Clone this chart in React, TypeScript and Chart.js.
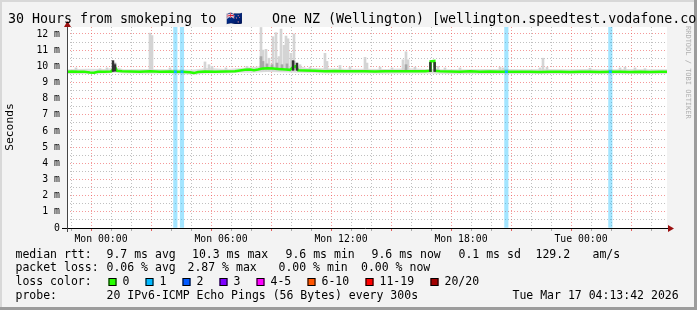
import { useEffect, useRef } from 'react';
import { Chart, registerables } from 'chart.js';

Chart.register(...registerables);

const FONT = '"DejaVu Sans Mono", "Liberation Mono", monospace';
const W = 697;
const H = 310;

// ---- texts ----
const titleParts = ['30 Hours from smokeping to', '🇳🇿', 'One NZ (Wellington) [wellington.speedtest.vodafone.co.nz]'];
const yAxisTitle = 'Seconds';
const watermark = 'RRDTOOL / TOBI OETIKER';

// ---- axes (minutes since graph start) ----
const rangeMinutes = 1800;
const xTickMinutes = [102, 462, 822, 1182, 1542];
const xTickLabels = ['Mon 00:00', 'Mon 06:00', 'Mon 12:00', 'Mon 18:00', 'Tue 00:00'];
const yMaxMs = 12.43;
const yTopTickMs = 12;

// ---- median rtt (ms) ----
const medianMinutes = [0, 15, 33, 51, 69, 81, 93, 111, 132, 138, 144, 150, 165, 189, 219, 249, 279, 309, 324, 345, 369, 381, 393, 414, 444, 474, 504, 519, 534, 549, 561, 573, 588, 603, 618, 633, 645, 657, 669, 678, 687, 693, 714, 744, 774, 804, 834, 864, 894, 924, 954, 984, 1014, 1044, 1074, 1089, 1091, 1102, 1104, 1119, 1149, 1179, 1209, 1239, 1269, 1299, 1317, 1329, 1359, 1389, 1419, 1449, 1479, 1509, 1539, 1569, 1599, 1629, 1659, 1689, 1719, 1749, 1779, 1800];
const medianMs = [9.67, 9.68, 9.66, 9.67, 9.62, 9.60, 9.66, 9.67, 9.68, 9.80, 9.95, 9.72, 9.69, 9.68, 9.67, 9.69, 9.67, 9.68, 9.67, 9.67, 9.63, 9.58, 9.65, 9.68, 9.67, 9.68, 9.69, 9.74, 9.78, 9.80, 9.76, 9.80, 9.87, 9.88, 9.87, 9.84, 9.82, 9.80, 9.78, 9.95, 10.02, 9.75, 9.74, 9.72, 9.70, 9.71, 9.69, 9.70, 9.69, 9.68, 9.70, 9.69, 9.70, 9.69, 9.70, 9.72, 10.30, 10.33, 9.72, 9.70, 9.68, 9.67, 9.69, 9.66, 9.68, 9.67, 9.66, 9.67, 9.66, 9.67, 9.65, 9.67, 9.66, 9.65, 9.66, 9.67, 9.65, 9.66, 9.67, 9.65, 9.66, 9.65, 9.66, 9.66];

// ---- smoke: general band around the median ----
const smokeMinutes = [0, 60, 120, 144, 170, 240, 300, 380, 420, 480, 519, 560, 600, 660, 690, 720, 780, 840, 900, 960, 1020, 1080, 1140, 1200, 1260, 1320, 1380, 1440, 1500, 1560, 1620, 1680, 1740, 1800];
const smokeLowMs = [9.52, 9.53, 9.55, 9.6, 9.55, 9.54, 9.55, 9.48, 9.55, 9.55, 9.6, 9.6, 9.65, 9.62, 9.6, 9.58, 9.56, 9.55, 9.55, 9.54, 9.55, 9.55, 9.53, 9.52, 9.53, 9.52, 9.52, 9.52, 9.52, 9.53, 9.52, 9.53, 9.52, 9.52];
const smokeHighMs = [9.82, 9.85, 9.84, 9.95, 9.82, 9.83, 9.82, 9.80, 9.9, 9.84, 9.9, 9.95, 10.05, 10.0, 10.05, 9.9, 9.88, 9.85, 9.85, 9.84, 9.88, 9.83, 9.82, 9.82, 9.83, 9.84, 9.81, 9.84, 9.81, 9.83, 9.82, 9.84, 9.82, 9.82];

// ---- smoke: max-ping spikes ----
const spikeFloorMs = 9.7;
const spikeMinutes = [27, 99, 120, 249, 255, 309, 414, 426, 435, 477, 540, 582, 588, 597, 606, 618, 627, 636, 642, 651, 657, 663, 672, 681, 699, 729, 774, 780, 819, 849, 894, 900, 939, 975, 1008, 1017, 1023, 1044, 1113, 1134, 1179, 1299, 1308, 1419, 1428, 1440, 1569, 1659, 1674, 1704, 1734];
const spikeHighMs = [9.9, 9.85, 9.9, 12.05, 11.9, 9.9, 10.27, 10.1, 10.0, 9.9, 10.0, 12.4, 11.0, 11.05, 10.5, 11.83, 12.08, 10.6, 12.3, 11.3, 11.87, 11.7, 10.8, 12.0, 10.1, 9.95, 10.8, 10.3, 10.05, 9.95, 10.55, 10.2, 9.95, 9.9, 10.4, 10.9, 10.4, 9.95, 10.0, 9.9, 9.9, 9.95, 9.9, 9.9, 10.5, 9.95, 9.88, 9.9, 9.95, 9.9, 9.85];

// ---- smoke: denser shades ----
const midMinutes = [144, 582, 588, 600, 615, 630, 645, 660, 681, 1017];
const midLowMs = [9.7, 9.8, 9.8, 9.85, 9.85, 9.85, 9.85, 9.82, 9.8, 9.7];
const midHighMs = [10.2, 10.6, 10.3, 10.15, 10.1, 10.2, 10.1, 10.15, 10.3, 10.1];
const darkMinutes = [138, 144, 678, 690, 1090, 1103];
const darkLowMs = [9.68, 9.7, 9.75, 9.75, 9.68, 9.68];
const darkHighMs = [10.35, 10.1, 10.35, 10.2, 10.24, 10.24];

// ---- packet loss events ----
const lossMinutes = [325, 345, 1318, 1630];
const lossCounts = [1, 1, 1, 1];
const lossMedianMs = [9.67, 9.67, 9.66, 9.66];

// ---- legend ----
const lossColorLabels = ['0', '1', '2', '3', '4-5', '6-10', '11-19', '20/20'];
const lossColors = ['#26ff00', '#00b8ff', '#0059ff', '#7e00ff', '#ff00ff', '#ff5500', '#ff0000', '#a10000'];
const rttLegend = ['median rtt:', '9.7 ms avg', '10.3 ms max', '9.6 ms min', '9.6 ms now', '0.1 ms sd', '129.2', 'am/s'];
const lossLegend = ['packet loss:', '0.06 % avg', '2.87 % max', '0.00 % min', '0.00 % now'];
const lossColorTitle = 'loss color:';
const probeLegend = ['probe:', '20 IPv6-ICMP Echo Pings (56 Bytes) every 300s', 'Tue Mar 17 04:13:42 2026'];

// ---- layout constants ----
const rttX = [15.5, 106.5, 192, 285.5, 371.5, 458.5, 535.5, 592.5];
const lossX = [15.5, 106.5, 187.5, 278.5, 361];
const boxX = [108.5, 145.5, 182.5, 219.5, 256.5, 307.5, 365.5, 430.5];
const boxLabelOffset = 14;
const probeX = [15.5, 106.5, 512.5];

const MINOR_GRID = 'rgba(140,140,140,0.55)';
const MAJOR_GRID = 'rgba(235,70,70,0.55)';

const hourTicks: number[] = [];
for (let t = xTickMinutes[0] % 60; t <= rangeMinutes; t += 60) hourTicks.push(t);
const yTicks: number[] = [];
for (let v = 0; v <= yTopTickMs + 1e-9; v += 0.5) yTicks.push(v);

const tickVal = (c: any) => (c && c.tick ? Number(c.tick.value) : NaN);
const isMajorX = (v: number) => Number.isFinite(v) && (((v - xTickMinutes[0]) % 180) + 180) % 180 === 0;

const decorPlugin = {
  id: 'decor',
  beforeDraw(chart: any) {
    const { ctx, chartArea } = chart;
    ctx.save();
    ctx.fillStyle = '#f3f3f3';
    ctx.fillRect(0, 0, W, H);
    ctx.fillStyle = '#d8d8d8';
    ctx.fillRect(0, 0, W, 2);
    ctx.fillRect(0, 0, 2, H);
    ctx.fillStyle = '#9c9c9c';
    ctx.fillRect(W - 3, 0, 3, H);
    ctx.fillRect(0, H - 3, W, 3);
    ctx.fillStyle = '#ffffff';
    ctx.fillRect(chartArea.left, chartArea.top, chartArea.right - chartArea.left, chartArea.bottom - chartArea.top);
    ctx.restore();
  },
  afterDraw(chart: any) {
    const { ctx, chartArea } = chart;
    const { left, right, top, bottom } = chartArea;
    ctx.save();
    // axes
    ctx.lineWidth = 1;
    ctx.strokeStyle = '#000';
    ctx.beginPath();
    ctx.moveTo(left - 5, bottom + 0.5);
    ctx.lineTo(right + 2, bottom + 0.5);
    ctx.stroke();
    ctx.strokeStyle = '#444';
    ctx.beginPath();
    ctx.moveTo(left + 0.5, bottom + 4);
    ctx.lineTo(left + 0.5, top - 1);
    ctx.stroke();
    ctx.fillStyle = '#9a1010';
    ctx.beginPath();
    ctx.moveTo(right + 1, bottom - 3);
    ctx.lineTo(right + 7, bottom + 0.5);
    ctx.lineTo(right + 1, bottom + 4);
    ctx.closePath();
    ctx.fill();
    ctx.beginPath();
    ctx.moveTo(left - 3, top);
    ctx.lineTo(left + 0.5, top - 6);
    ctx.lineTo(left + 4, top);
    ctx.closePath();
    ctx.fill();

    // title
    ctx.fillStyle = '#000';
    ctx.textBaseline = 'middle';
    ctx.textAlign = 'left';
    ctx.font = `13.3px ${FONT}`;
    ctx.fillText(titleParts[0], 8, 19.5);
    ctx.fillText(titleParts[1], 226, 19.5);
    ctx.fillText(titleParts[2], 272, 19.5);

    // y axis title
    ctx.save();
    ctx.font = `11.3px ${FONT}`;
    ctx.translate(10.5, 127);
    ctx.rotate(-Math.PI / 2);
    ctx.textAlign = 'center';
    ctx.fillText(yAxisTitle, 0, 0);
    ctx.restore();

    // watermark
    ctx.save();
    ctx.font = `7px ${FONT}`;
    ctx.fillStyle = '#b0b0b0';
    ctx.translate(688, 26);
    ctx.rotate(Math.PI / 2);
    ctx.textAlign = 'left';
    ctx.fillText(watermark, 0, 0);
    ctx.restore();

    // legend
    ctx.font = `11.5px ${FONT}`;
    ctx.fillStyle = '#000';
    rttLegend.forEach((s, i) => ctx.fillText(s, rttX[i], 255));
    lossLegend.forEach((s, i) => ctx.fillText(s, lossX[i], 268.5));
    ctx.fillText(lossColorTitle, 15.5, 282);
    lossColorLabels.forEach((s, i) => {
      ctx.fillStyle = lossColors[i];
      ctx.fillRect(boxX[i], 278, 8, 8);
      ctx.strokeStyle = '#000';
      ctx.strokeRect(boxX[i] + 0.5, 278.5, 7, 7);
      ctx.fillStyle = '#000';
      ctx.fillText(s, boxX[i] + boxLabelOffset, 282);
    });
    probeLegend.forEach((s, i) => ctx.fillText(s, probeX[i], 296));
    ctx.restore();
  },
};

export default function App() {
  const ref = useRef<HTMLCanvasElement>(null);
  useEffect(() => {
    document.body.style.margin = '0';
    const canvas = ref.current;
    if (!canvas) return;

    const pts = (xs: number[], ys: number[]) => xs.map((x, i) => ({ x, y: ys[i] }));
    const lossLine: any[] = [];
    lossMinutes.forEach((t, i) => {
      lossLine.push({ x: t - 4.5, y: lossMedianMs[i] }, { x: t + 4.5, y: lossMedianMs[i] }, { x: t + 5, y: null });
    });

    const chart = new Chart(canvas, {
      type: 'line',
      data: {
        datasets: [
          {
            type: 'line',
            data: pts(smokeMinutes, smokeHighMs),
            borderWidth: 0,
            pointRadius: 0,
            backgroundColor: '#dedede',
            fill: '+1',
            order: 9,
          } as any,
          {
            type: 'line',
            data: pts(smokeMinutes, smokeLowMs),
            borderWidth: 0,
            pointRadius: 0,
            fill: false,
            order: 9,
          },
          {
            type: 'bar',
            data: lossMinutes.map((x) => ({ x, y: [0, yMaxMs] })),
            backgroundColor: lossMinutes.map((_, i) => lossColors[lossCounts[i]] + '5c'),
            barThickness: 3.5,
            grouped: false,
            borderWidth: 0,
            order: 5,
          } as any,
          {
            type: 'bar',
            data: spikeMinutes.map((x, i) => ({ x, y: [spikeFloorMs, spikeHighMs[i]] })),
            backgroundColor: '#d4d4d4',
            barThickness: 2,
            grouped: false,
            borderWidth: 0,
            order: 8,
          } as any,
          {
            type: 'bar',
            data: midMinutes.map((x, i) => ({ x, y: [midLowMs[i], midHighMs[i]] })),
            backgroundColor: '#a8a8a8',
            barThickness: 2,
            grouped: false,
            borderWidth: 0,
            order: 7,
          } as any,
          {
            type: 'bar',
            data: darkMinutes.map((x, i) => ({ x, y: [darkLowMs[i], darkHighMs[i]] })),
            backgroundColor: '#333333',
            barThickness: 1.8,
            grouped: false,
            borderWidth: 0,
            order: 0,
          } as any,
          {
            type: 'line',
            data: pts(medianMinutes, medianMs),
            borderColor: lossColors[0],
            borderWidth: 2.5,
            pointRadius: 0,
            tension: 0,
            fill: false,
            order: 2,
          },
          {
            type: 'line',
            data: lossLine,
            borderColor: lossColors[1],
            borderWidth: 2.5,
            pointRadius: 0,
            spanGaps: false,
            fill: false,
            order: 1,
          },
        ],
      },
      options: {
        animation: false,
        responsive: false,
        devicePixelRatio: 1,
        layout: { padding: { left: 0, right: 30, top: 27, bottom: 0 } },
        plugins: {
          legend: { display: false },
          tooltip: { enabled: false },
          title: { display: false },
        },
        scales: {
          x: {
            type: 'linear',
            min: 0,
            max: rangeMinutes,
            offset: false,
            afterBuildTicks: (s: any) => {
              s.ticks = hourTicks.map((value) => ({ value }));
            },
            afterFit: (s: any) => {
              s.height = H - 228;
            },
            border: { display: false, dash: [1, 2] },
            grid: {
              color: (c: any) => (isMajorX(tickVal(c)) ? MAJOR_GRID : MINOR_GRID),
              tickColor: (c: any) => (isMajorX(tickVal(c)) ? '#e06060' : '#aaaaaa'),
              drawTicks: true,
              tickLength: 3,
              tickBorderDash: [],
            },
            ticks: {
              autoSkip: false,
              maxRotation: 0,
              minRotation: 0,
              padding: 3,
              color: '#000',
              font: { family: FONT, size: 9.8 },
              callback: (v: any) => {
                const i = xTickMinutes.indexOf(Number(v));
                return i >= 0 ? xTickLabels[i] : '';
              },
            },
          },
          y: {
            type: 'linear',
            min: 0,
            max: yMaxMs,
            afterBuildTicks: (s: any) => {
              s.ticks = yTicks.map((value) => ({ value }));
            },
            afterFit: (s: any) => {
              s.width = 67;
            },
            border: { display: false, dash: [1, 2] },
            grid: {
              color: (c: any) => (Number.isInteger(tickVal(c)) ? MAJOR_GRID : MINOR_GRID),
              drawTicks: false,
            },
            ticks: {
              autoSkip: false,
              padding: 7,
              color: '#000',
              font: { family: FONT, size: 9.8 },
              callback: (v: any) => {
                const n = Number(v);
                if (!Number.isInteger(n)) return '';
                return n === 0 ? '0' : `${n} m`;
              },
            },
          },
        },
      },
      plugins: [decorPlugin],
    } as any);
    return () => chart.destroy();
  }, []);

  return <canvas ref={ref} width={W} height={H} style={{ display: 'block', width: W, height: H }} />;
}
